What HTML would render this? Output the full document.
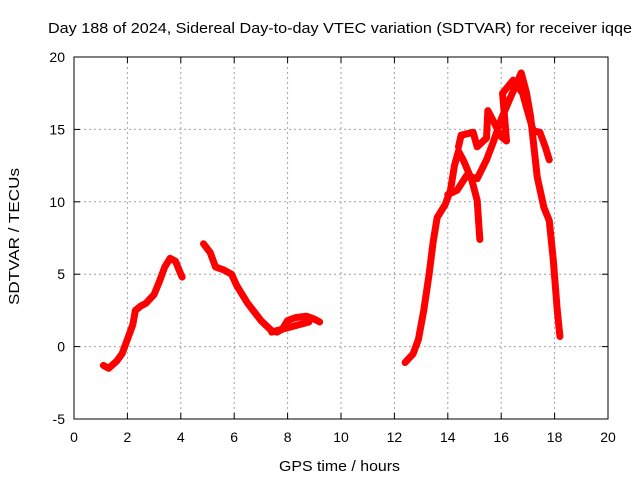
<!DOCTYPE html>
<html><head><meta charset="utf-8"><style>
body{margin:0;background:#fff}
svg{display:block;font-family:"Liberation Sans",sans-serif}
</style></head><body>
<svg id="chart" width="640" height="480">
<rect width="640" height="480" fill="#fff"/>
<g id="grid"></g>
<g id="axes"></g>
<g id="series"></g>
<text x="48" y="33" font-size="15" textLength="584" lengthAdjust="spacingAndGlyphs">Day 188 of 2024, Sidereal Day-to-day VTEC variation (SDTVAR) for receiver iqqe</text>
<text x="279" y="471" font-size="15" textLength="121" lengthAdjust="spacingAndGlyphs">GPS time / hours</text>
<text transform="translate(19,305) rotate(-90)" font-size="15" textLength="137" lengthAdjust="spacingAndGlyphs">SDTVAR / TECUs</text>
</svg>
<script>
const xTicks=[0,2,4,6,8,10,12,14,16,18,20];
const yTicks=[-5,0,5,10,15,20];
const seg1=[[1.1,-1.3],[1.3,-1.5],[1.6,-1.0],[1.8,-0.5],[2.0,0.5],[2.2,1.5],[2.3,2.5],[2.5,2.8],[2.7,3.0],[3.0,3.6],[3.2,4.5],[3.4,5.5],[3.6,6.1],[3.8,5.9],[4.0,5.0],[4.05,4.8]];
const seg2=[[4.85,7.1],[5.1,6.5],[5.3,5.5],[5.6,5.3],[5.9,5.0],[6.1,4.2],[6.5,3.0],[7.0,1.8],[7.4,1.1],[7.6,1.0],[7.8,1.2],[8.0,1.8],[8.3,2.0],[8.7,2.1],[9.0,1.9],[9.2,1.7]];
const seg2b=[[7.4,1.0],[7.6,1.1],[8.0,1.3],[8.4,1.5],[8.8,1.7]];
const seg3a=[[12.4,-1.1],[12.7,-0.5],[12.9,0.5],[13.1,2.5],[13.3,5.0],[13.45,7.2],[13.6,8.9],[13.9,9.8],[14.1,10.8],[14.25,12.5],[14.4,13.5],[14.6,12.8],[14.9,11.5],[15.1,10.1],[15.2,7.4]];
const seg3b=[[14.0,10.5],[14.35,10.8],[14.7,11.8],[15.1,11.6],[15.45,12.9],[15.7,14.1],[16.0,15.7],[16.3,17.0],[16.75,18.9],[16.95,17.5],[17.1,15.9],[17.35,11.7],[17.6,9.6],[17.8,8.7],[17.95,6.0],[18.1,2.5],[18.2,0.7]];
const seg3c=[[14.4,13.8],[14.5,14.6],[14.95,14.8],[15.1,13.8],[15.45,14.4],[15.5,16.3],[15.7,15.6],[16.0,14.5],[16.2,14.2],[16.05,17.5],[16.45,18.4],[16.8,17.5],[16.95,16.5],[17.2,14.9],[17.45,14.8],[17.65,13.8],[17.8,12.9]];
const series=[seg1,seg2,seg2b,seg3a,seg3b,seg3c];
const L=74,R=608,T=57,B=419;
const sx=v=>L+(v-0)/20*(R-L);
const sy=v=>B-(v+5)/25*(B-T);
const NS="http://www.w3.org/2000/svg";
function mk(t,a,p){const e=document.createElementNS(NS,t);for(const k in a)e.setAttribute(k,a[k]);p.appendChild(e);return e;}
const grid=document.getElementById('grid'),axes=document.getElementById('axes'),ser=document.getElementById('series');
xTicks.forEach(t=>{
 const x=sx(t);
 if(t>0&&t<20){const g=mk('line',{x1:x,x2:x,y1:T,y2:B,stroke:'#a0a0a0','stroke-dasharray':'2,3'},grid);
 
 }
 mk('line',{x1:x,x2:x,y1:B,y2:B-6,stroke:'#000'},axes);
 mk('line',{x1:x,x2:x,y1:T,y2:T+6,stroke:'#000'},axes);
 const tx=mk('text',{x:x,y:B+23,'text-anchor':'middle','font-size':14},axes);tx.textContent=t;
 
 
});
yTicks.forEach(t=>{
 const y=sy(t);
 if(t>-5&&t<20){const g=mk('line',{x1:L,x2:R,y1:y,y2:y,stroke:'#a0a0a0','stroke-dasharray':'2,3'},grid);
 
 }
 mk('line',{x1:L,x2:L+6,y1:y,y2:y,stroke:'#000'},axes);
 mk('line',{x1:R,x2:R-6,y1:y,y2:y,stroke:'#000'},axes);
 const tx=mk('text',{x:L-9,y:y+5,'text-anchor':'end','font-size':14},axes);tx.textContent=t;
 
 
});
mk('rect',{x:L,y:T,width:R-L,height:B-T,fill:'none',stroke:'#000'},axes);
series.forEach(s=>{
 const p=mk('polyline',{points:s.map(d=>sx(d[0])+','+sy(d[1])).join(' '),fill:'none',stroke:'#f00','stroke-width':7,'stroke-linejoin':'round','stroke-linecap':'round'},ser);
 
 
});
</script>
</body></html>
